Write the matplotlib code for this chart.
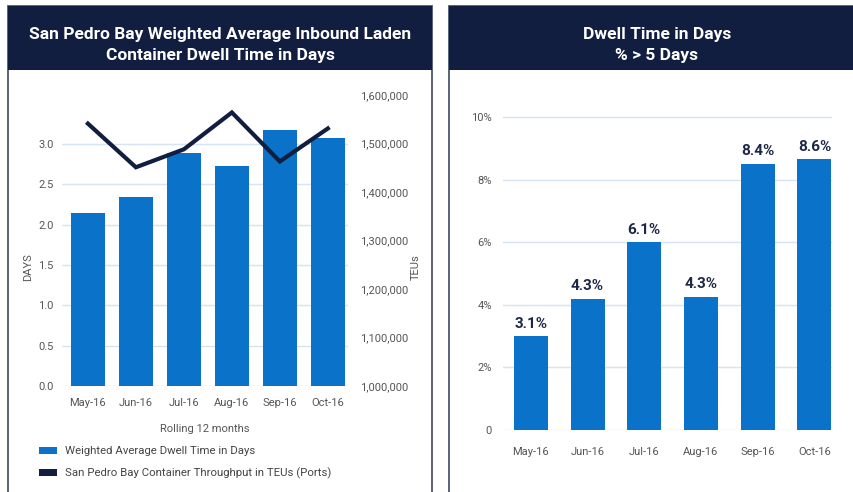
import matplotlib
matplotlib.use('Agg')
import matplotlib.pyplot as plt
from matplotlib.patches import Rectangle, Patch

plt.rcParams['font.family'] = ['Roboto', 'DejaVu Sans']

months = ['May-16', 'Jun-16', 'Jul-16', 'Aug-16', 'Sep-16', 'Oct-16']
dwell_days = [2.15, 2.34, 2.89, 2.73, 3.17, 3.08]
teus = [1541000, 1451000, 1488000, 1564000, 1463000, 1531000]
pct_over5 = [3.0, 4.2, 6.0, 4.25, 8.5, 8.65]
pct_labels = ['3.1%', '4.3%', '6.1%', '4.3%', '8.4%', '8.6%']

W, H = 854, 492
BLUE = '#0a72c8'
NAVY = '#121e40'
GRID = '#d6e4f3'
TXT = '#555555'


def box(x0, y0, x1, y1):
    # pixel box (top-left origin) -> figure fraction
    return [x0 / W, 1 - y1 / H, (x1 - x0) / W, (y1 - y0) / H]


fig = plt.figure(figsize=(W / 100, H / 100), dpi=100)
fig.patch.set_facecolor('white')

# panel frames and headers
for x0, x1 in [(8, 432), (449, 860)]:
    fig.patches.append(Rectangle((x0 / W, -0.05), (x1 - x0) / W, 1 - 6 / H + 0.05,
                                 transform=fig.transFigure, fill=False,
                                 edgecolor='#4b5672', lw=1.3))
    fig.patches.append(Rectangle((x0 / W, 1 - 70 / H), (x1 - x0) / W, 64 / H,
                                 transform=fig.transFigure, facecolor=NAVY,
                                 edgecolor='none'))

fig.text(220 / W, 1 - 45 / H,
         'San Pedro Bay Weighted Average Inbound Laden\nContainer Dwell Time in Days',
         ha='center', va='center', color='white', fontsize=12.5, fontweight='bold',
         linespacing=1.5)
fig.text(657 / W, 1 - 45 / H, 'Dwell Time in Days\n% > 5 Days',
         ha='center', va='center', color='white', fontsize=12.5, fontweight='bold',
         linespacing=1.5)

# left chart
ax = fig.add_axes(box(62, 95, 348, 386))
x = list(range(len(months)))
ax.bar(x, dwell_days, width=0.71, color=BLUE, zorder=2)
ax.set_xlim(-0.54, 5.42)
ax.set_ylim(0, 3.61)
ax.set_yticks([0, 0.5, 1.0, 1.5, 2.0, 2.5, 3.0])
ax.set_yticklabels(['%.1f' % v for v in [0, 0.5, 1.0, 1.5, 2.0, 2.5, 3.0]])
ax.set_xticks(x)
ax.set_xticklabels(months)
ax.grid(axis='y', color=GRID, lw=1, zorder=0)
for s in ax.spines.values():
    s.set_visible(False)
ax.tick_params(length=0, labelsize=8, colors=TXT, pad=9)
ax.tick_params(axis='y', pad=6)
ax.set_ylabel('DAYS', fontsize=8, color=TXT, va='center')
ax.yaxis.set_label_coords(-0.119, 0.41)
ax.set_xlabel('Rolling 12 months', fontsize=8, color=TXT, labelpad=11)

ax2 = ax.twinx()
ax2.plot(x, teus, color=NAVY, lw=3, zorder=3, solid_joinstyle='miter')
ax2.set_ylim(1000000, 1600000)
ax2.set_yticks(range(1000000, 1600001, 100000))
ax2.set_yticklabels(['{:,}'.format(v) for v in range(1000000, 1600001, 100000)])
for s in ax2.spines.values():
    s.set_visible(False)
ax2.tick_params(length=0, labelsize=8, colors=TXT, pad=9)
ax2.set_ylabel('TEUs', fontsize=8, color=TXT, va='center')
ax2.yaxis.set_label_coords(1.238, 0.41)

handles = [Patch(facecolor=BLUE, label='Weighted Average Dwell Time in Days'),
           Patch(facecolor=NAVY, label='San Pedro Bay Container Throughput in TEUs (Ports)')]
fig.legend(handles=handles, loc='upper left', bbox_to_anchor=(29 / W, 1 - 436 / H),
           frameon=False, fontsize=8.2, handlelength=1.6, handleheight=0.55,
           labelspacing=1.0, handletextpad=0.7, labelcolor='#444444')

# right chart
axr = fig.add_axes(box(503, 100, 832, 430))
axr.bar(x, pct_over5, width=0.6, color=BLUE, zorder=2)
axr.set_xlim(-0.49, 5.31)
axr.set_ylim(0, 10.54)
axr.set_yticks([0, 2, 4, 6, 8, 10])
axr.set_yticklabels(['0', '2%', '4%', '6%', '8%', '10%'])
axr.set_xticks(x)
axr.set_xticklabels(months)
axr.grid(axis='y', color=GRID, lw=1, zorder=0)
for s in axr.spines.values():
    s.set_visible(False)
axr.tick_params(length=0, labelsize=8, colors=TXT, pad=12)
axr.tick_params(axis='y', pad=8)
for xi, v, lab in zip(x, pct_over5, pct_labels):
    axr.annotate(lab, (xi, v), xytext=(0, 4), textcoords='offset points',
                 ha='center', va='bottom', fontsize=11, fontweight='bold',
                 color='#1d2846')

fig.savefig('out.png', dpi=100)
